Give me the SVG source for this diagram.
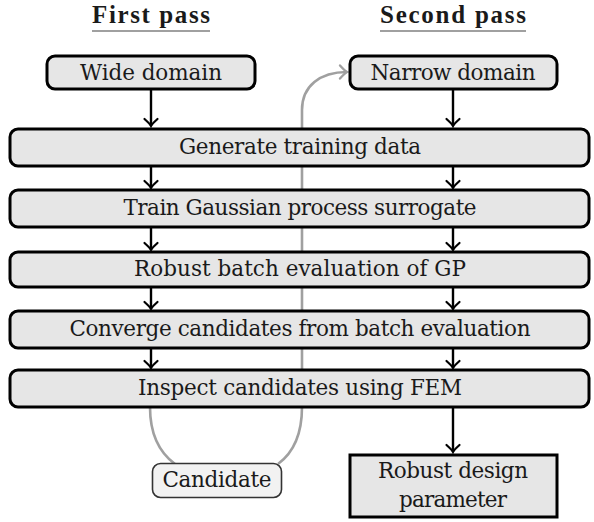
<svg xmlns="http://www.w3.org/2000/svg" width="594" height="522" viewBox="0 0 594 522">
<defs>
<style>
.t{font-family:"DejaVu Serif",serif;font-size:21.5px;fill:#1a1a1a;text-anchor:middle}
.hd{font-family:"Liberation Serif",serif;font-weight:bold;font-size:25px;fill:#1a1a1a;text-anchor:middle}
.ul{stroke:#808080;stroke-width:1.6}
.box{fill:#e6e6e6;stroke:#000;stroke-width:3}
.cand{fill:#f2f2f2;stroke:#333;stroke-width:1.6}
.arr{fill:none;stroke:#000;stroke-width:2.4;marker-end:url(#ah)}
.gr{fill:none;stroke:#a0a0a0;stroke-width:2.6}
</style>
<marker id="ah" markerUnits="userSpaceOnUse" viewBox="-10 -10 20 20" markerWidth="20" markerHeight="20" refX="0" refY="0" orient="auto">
<path d="M-7,-6.5 Q-2,-1 0,0 Q-2,1 -7,6.5" fill="none" stroke="#000" stroke-width="2.2" stroke-linecap="round"/>
</marker>
<marker id="ahg" markerUnits="userSpaceOnUse" viewBox="-10 -10 20 20" markerWidth="20" markerHeight="20" refX="0" refY="0" orient="auto">
<path d="M-7,-6.5 Q-2,-1 0,0 Q-2,1 -7,6.5" fill="none" stroke="#a0a0a0" stroke-width="2.4" stroke-linecap="round"/>
</marker>
</defs>
<g id="headers">
<text class="hd" x="151" y="23" textLength="118" lengthAdjust="spacing">First pass</text>
<line class="ul" x1="92" y1="31" x2="210" y2="31"/>
<text class="hd" x="453" y="23" textLength="146" lengthAdjust="spacing">Second pass</text>
<line class="ul" x1="380" y1="31" x2="526" y2="31"/>
</g>
<g id="connectors">
<path class="gr" d="M150,407 C150,436 160,453 175,464"/>
<path class="gr" d="M278,464 C293,453 302,436 302,407 L302,110 C302,86 320,72 347,72" marker-end="url(#ahg)"/>
<path class="arr" d="M151,89 V126"/>
<path class="arr" d="M453,89 V126"/>
<path class="arr" d="M151,166 V188"/>
<path class="arr" d="M453,166 V188"/>
<path class="arr" d="M151,227 V250"/>
<path class="arr" d="M453,227 V250"/>
<path class="arr" d="M151,287 V309"/>
<path class="arr" d="M453,287 V309"/>
<path class="arr" d="M151,348 V368"/>
<path class="arr" d="M453,348 V368"/>
<path class="arr" d="M453,407 V452"/>
</g>
<g id="wide">
<rect class="box" x="47" y="56" width="208" height="33" rx="8"/>
<text class="t" x="151" y="80" textLength="142" lengthAdjust="spacing">Wide domain</text>
</g>
<g id="narrow">
<rect class="box" x="350" y="56" width="207" height="33" rx="8"/>
<text class="t" x="453" y="80" textLength="165" lengthAdjust="spacing">Narrow domain</text>
</g>
<g id="generate">
<rect class="box" x="10" y="129" width="579" height="37" rx="8"/>
<text class="t" x="300" y="154" textLength="242" lengthAdjust="spacing">Generate training data</text>
</g>
<g id="train">
<rect class="box" x="10" y="190" width="579" height="37" rx="8"/>
<text class="t" x="300" y="215" textLength="353" lengthAdjust="spacing">Train Gaussian process surrogate</text>
</g>
<g id="robust">
<rect class="box" x="10" y="252" width="579" height="35" rx="8"/>
<text class="t" x="300" y="276" textLength="332" lengthAdjust="spacing">Robust batch evaluation of GP</text>
</g>
<g id="converge">
<rect class="box" x="10" y="311" width="579" height="37" rx="8"/>
<text class="t" x="300" y="336" textLength="461" lengthAdjust="spacing">Converge candidates from batch evaluation</text>
</g>
<g id="inspect">
<rect class="box" x="10" y="370" width="579" height="37" rx="8"/>
<text class="t" x="300" y="395" textLength="324" lengthAdjust="spacing">Inspect candidates using FEM</text>
</g>
<g id="candidate">
<rect class="cand" x="152.5" y="463.5" width="129" height="34" rx="8"/>
<text class="t" x="217" y="487" textLength="109" lengthAdjust="spacing">Candidate</text>
</g>
<g id="design">
<rect class="box" x="350" y="455" width="207" height="62"/>
<text class="t" x="453" y="478" textLength="150" lengthAdjust="spacing">Robust design</text>
<text class="t" x="453" y="507" textLength="108" lengthAdjust="spacing">parameter</text>
</g>
</svg>
